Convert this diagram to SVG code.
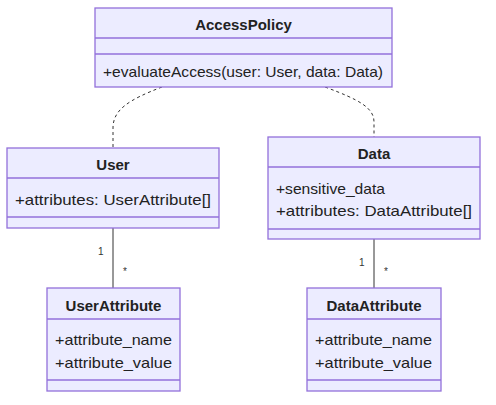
<svg xmlns="http://www.w3.org/2000/svg" width="496" height="405" viewBox="0 0 496 405">
<style>
.box{fill:#ECECFF;stroke:#9370DB;stroke-width:1.3}
.div{stroke:#9370DB;stroke-width:1.3}
.t{font-family:"Liberation Sans",Arial,sans-serif;font-size:15px;fill:#222}
.b{font-weight:bold;text-anchor:middle}
.lbl{font-family:"Liberation Sans",Arial,sans-serif;font-size:10px;fill:#333}
.ln{fill:none;stroke:#333;stroke-width:1}
.dash{stroke-dasharray:3,3}
</style>
<rect width="496" height="405" fill="#fff"/>
<g id="connectors">
<path class="ln dash" d="M162,87 C128,100 113,110 113,128 L113,148"/>
<path class="ln dash" d="M325,87 C360,100 374,108 374,122 L374,137"/>
<path class="ln" d="M113,228 L113,288"/>
<path class="ln" d="M374,239 L374,288"/>
<text class="lbl" x="98" y="255">1</text>
<text class="lbl" x="123" y="275">*</text>
<text class="lbl" x="359" y="266">1</text>
<text class="lbl" x="384" y="275">*</text>
</g>
<g id="AccessPolicy">
<rect class="box" x="95" y="8" width="297" height="79"/>
<line class="div" x1="95" y1="38" x2="392" y2="38"/>
<line class="div" x1="95" y1="54" x2="392" y2="54"/>
<text class="t b" x="243.5" y="30">AccessPolicy</text>
<text class="t" x="103" y="77" textLength="280" lengthAdjust="spacingAndGlyphs">+evaluateAccess(user: User, data: Data)</text>
</g>
<g id="User">
<rect class="box" x="7" y="148" width="212" height="80"/>
<line class="div" x1="7" y1="178" x2="219" y2="178"/>
<line class="div" x1="7" y1="217" x2="219" y2="217"/>
<text class="t b" x="113" y="170">User</text>
<text class="t" x="15" y="205" textLength="196" lengthAdjust="spacingAndGlyphs">+attributes: UserAttribute[]</text>
</g>
<g id="Data">
<rect class="box" x="268" y="137" width="212" height="102"/>
<line class="div" x1="268" y1="167" x2="480" y2="167"/>
<line class="div" x1="268" y1="229" x2="480" y2="229"/>
<text class="t b" x="374" y="159">Data</text>
<text class="t" x="276" y="194" textLength="109" lengthAdjust="spacingAndGlyphs">+sensitive_data</text>
<text class="t" x="276" y="216" textLength="196" lengthAdjust="spacingAndGlyphs">+attributes: DataAttribute[]</text>
</g>
<g id="UserAttribute">
<rect class="box" x="47" y="288" width="133" height="103"/>
<line class="div" x1="47" y1="319" x2="180" y2="319"/>
<line class="div" x1="47" y1="380" x2="180" y2="380"/>
<text class="t b" x="113.5" y="311">UserAttribute</text>
<text class="t" x="55" y="345" textLength="117" lengthAdjust="spacingAndGlyphs">+attribute_name</text>
<text class="t" x="55" y="368" textLength="117" lengthAdjust="spacingAndGlyphs">+attribute_value</text>
</g>
<g id="DataAttribute">
<rect class="box" x="307" y="288" width="134" height="103"/>
<line class="div" x1="307" y1="319" x2="441" y2="319"/>
<line class="div" x1="307" y1="380" x2="441" y2="380"/>
<text class="t b" x="374" y="311">DataAttribute</text>
<text class="t" x="315" y="345" textLength="117" lengthAdjust="spacingAndGlyphs">+attribute_name</text>
<text class="t" x="315" y="368" textLength="117" lengthAdjust="spacingAndGlyphs">+attribute_value</text>
</g>
</svg>
